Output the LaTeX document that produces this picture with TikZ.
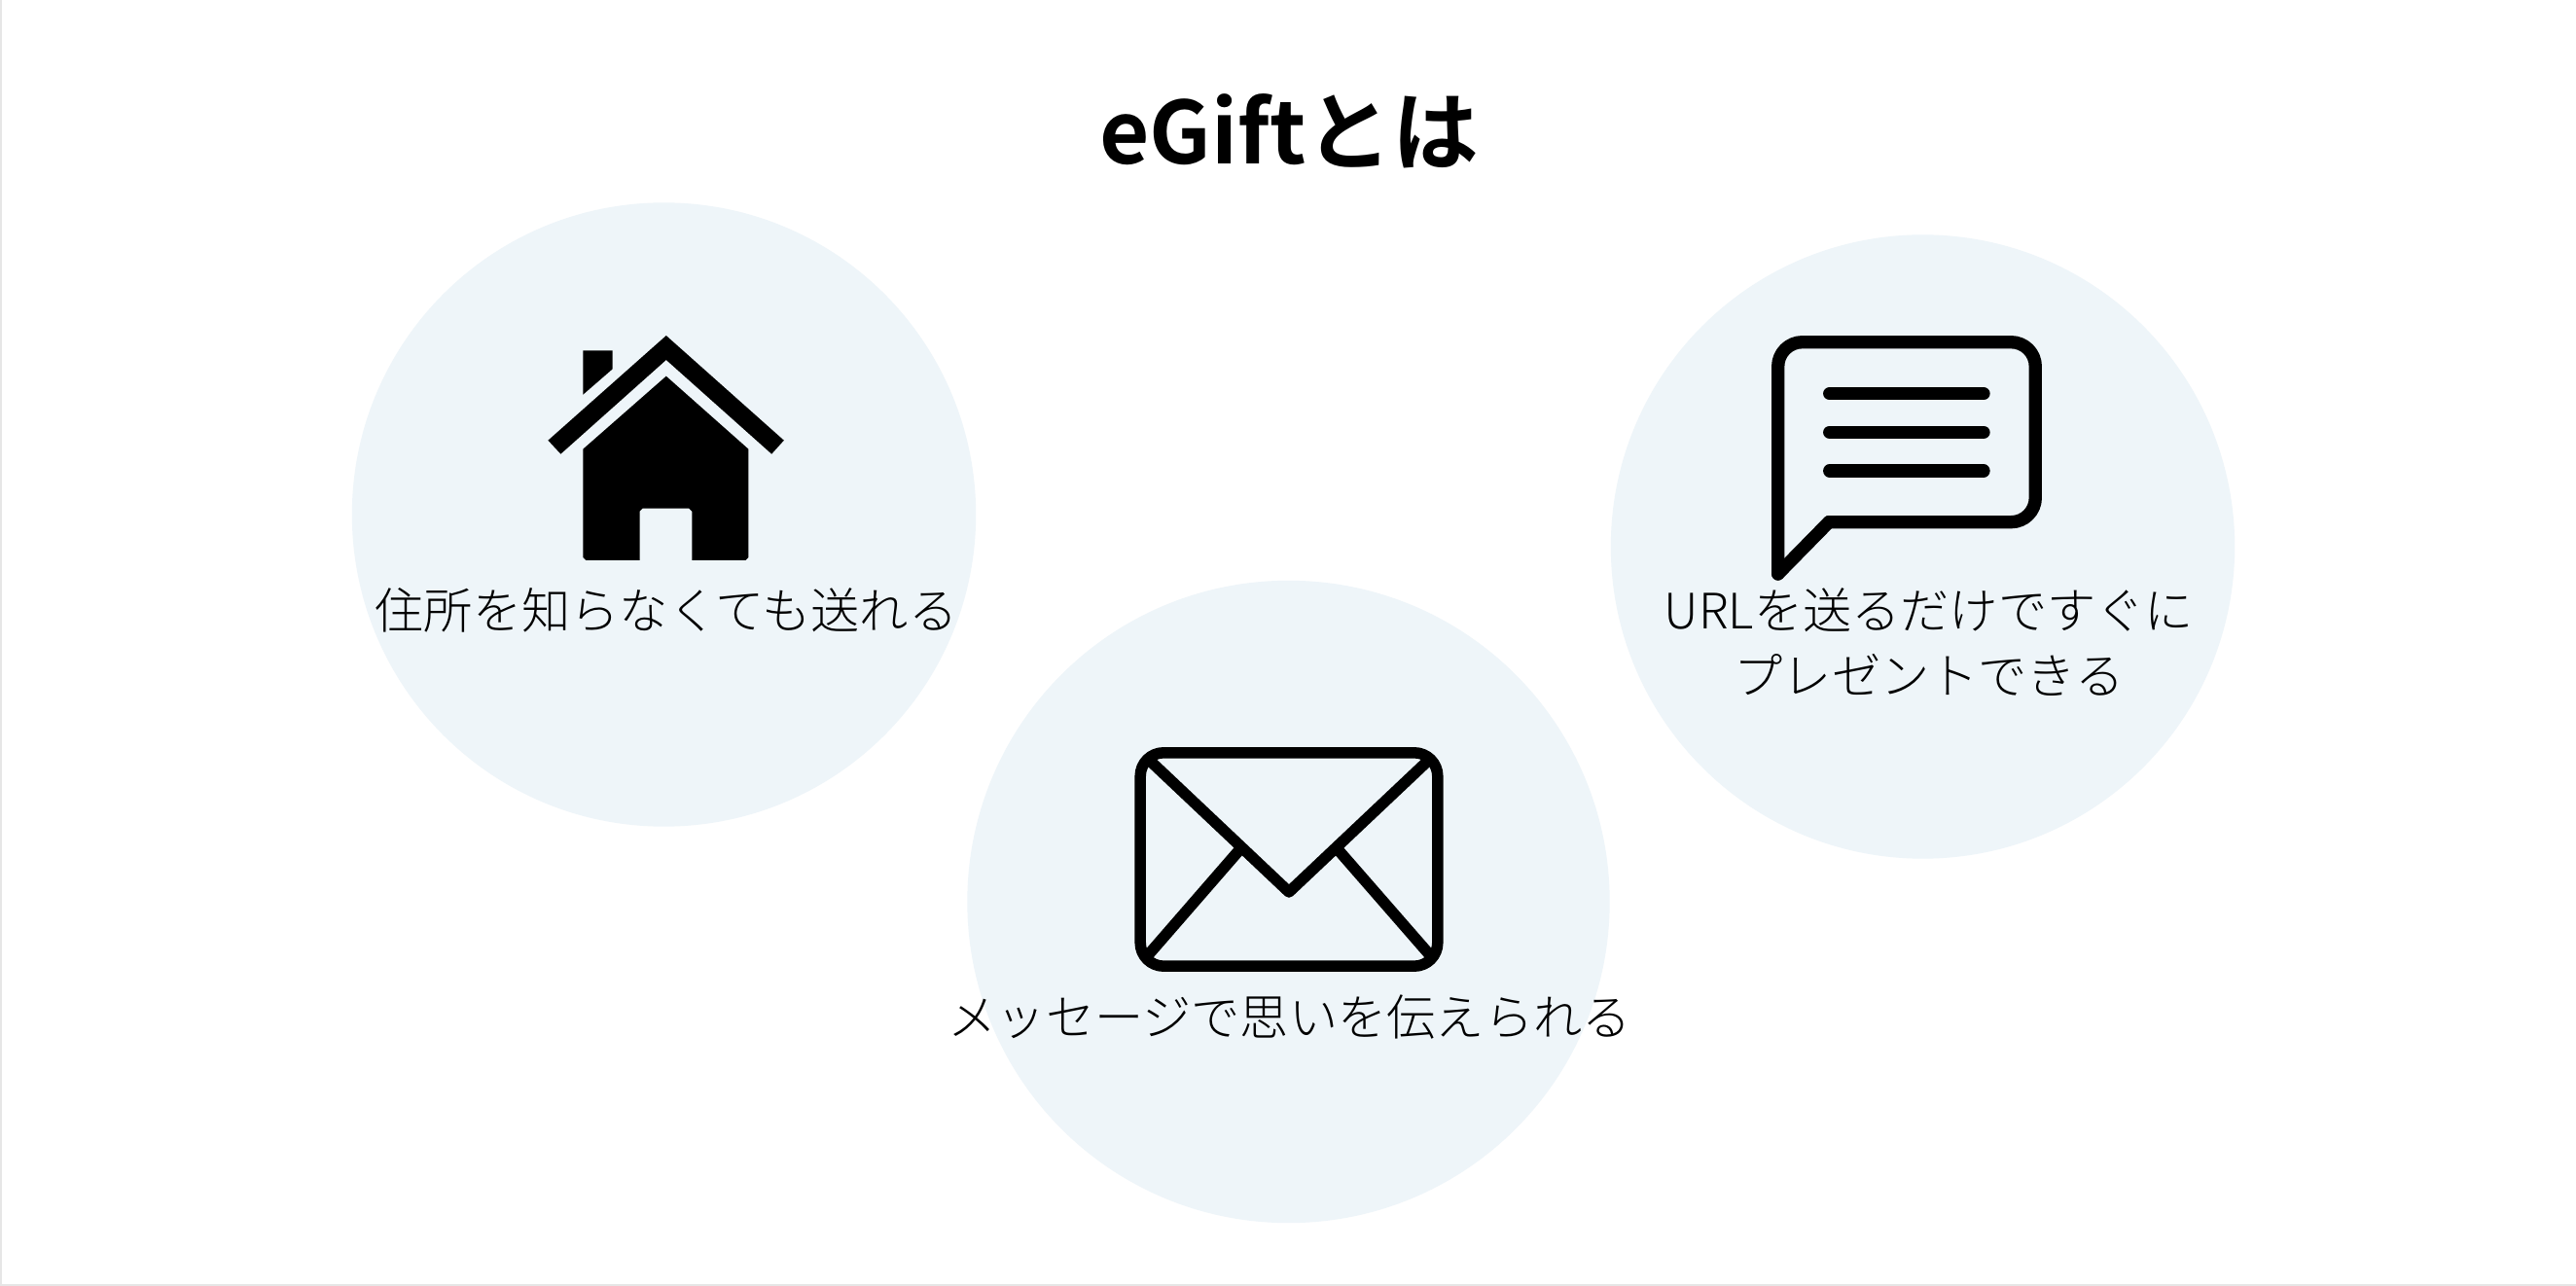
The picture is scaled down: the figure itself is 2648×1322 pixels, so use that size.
\documentclass[tikz,border=0pt]{standalone}
\usepackage{fontspec}
\setmainfont{Noto Sans CJK JP Light}
\newfontfamily\titlefont{Noto Sans CJK JP Bold}
\definecolor{disc}{HTML}{EEF5F9}
\definecolor{edge}{HTML}{E6E6E6}
\tikzset{
  x=0.01cm,y=-0.01cm,
  discshape/.style={fill=disc,draw=none},
  glyph/.style={fill=black,draw=none},
  outline/.style={draw=black,line width=0.115cm,line join=round,line cap=round},
  bubbleline/.style={draw=black,line width=0.133cm,line join=round,line cap=round},
  caption/.style={font=\fontsize{14.28pt}{19.06pt}\selectfont,inner sep=0pt,align=center,text=black},
  heading/.style={font=\titlefont\fontsize{25.2pt}{28pt}\selectfont,inner sep=0pt,text=black}
}
\begin{document}
\begin{tikzpicture}
\useasboundingbox (0,0) rectangle (2648,1322);
\fill[white] (0,0) rectangle (2648,1322);
\fill[edge] (0,0) rectangle (2,1322);
\fill[edge] (0,1320) rectangle (2648,1322);
% discs
\fill[discshape] (682.5,529) circle[radius=3.205cm];
\fill[discshape] (1324.5,927) circle[radius=3.30cm];
\fill[discshape] (1976.5,562) circle[radius=3.205cm];
% house
\fill[glyph] (684.8,345) -- (805.8,452.7) -- (793.2,466.7) -- (684.8,370) -- (576.4,466.7) -- (563.4,452.7) -- cycle;
\fill[glyph] (599.3,360.3) -- (629.7,360.3) -- (629.7,379.3) -- (599.3,405.7) -- cycle;
\fill[glyph] (684.8,386.7) -- (769.4,461.7) -- (769.4,573) -- (766.4,576) -- (711.3,576) -- (711.3,525.7) -- (708.3,522.7) -- (660.5,522.7) -- (657.5,525.7) -- (657.5,576) -- (602.3,576) -- (599.3,573) -- (599.3,461.7) -- cycle;
% envelope
\draw[outline,rounded corners=0.24cm] (1172.2,773.8) rectangle (1477.8,993.2);
\draw[outline] (1181,781) -- (1325,917) -- (1469,781);
\draw[outline] (1273,875) -- (1180,982);
\draw[outline] (1376.7,875) -- (1470,982);
% speech bubble
\draw[bubbleline,rounded corners=0.25cm] (1880,536.7) -- (2092.3,536.7) -- (2092.3,351.7) -- (1827.7,351.7) -- (1827.7,590);
\draw[bubbleline] (1827.7,590) -- (1880,536.7);
\draw[bubbleline] (1880.7,404.7) -- (2039,404.7);
\draw[bubbleline] (1880.7,444.3) -- (2039,444.3);
\draw[bubbleline] (1880.7,484) -- (2039,484);
% text
\node[heading] (title) at (1325,135) {eGiftとは};
\node[caption] (capA) at (685,627) {住所を知らなくても送れる};
\node[caption] (capB) at (1325.7,1046) {メッセージで思いを伝えられる};
\node[caption] (capC) at (1983,660) {URLを送るだけですぐに\\プレゼントできる};
\end{tikzpicture}
\end{document}
